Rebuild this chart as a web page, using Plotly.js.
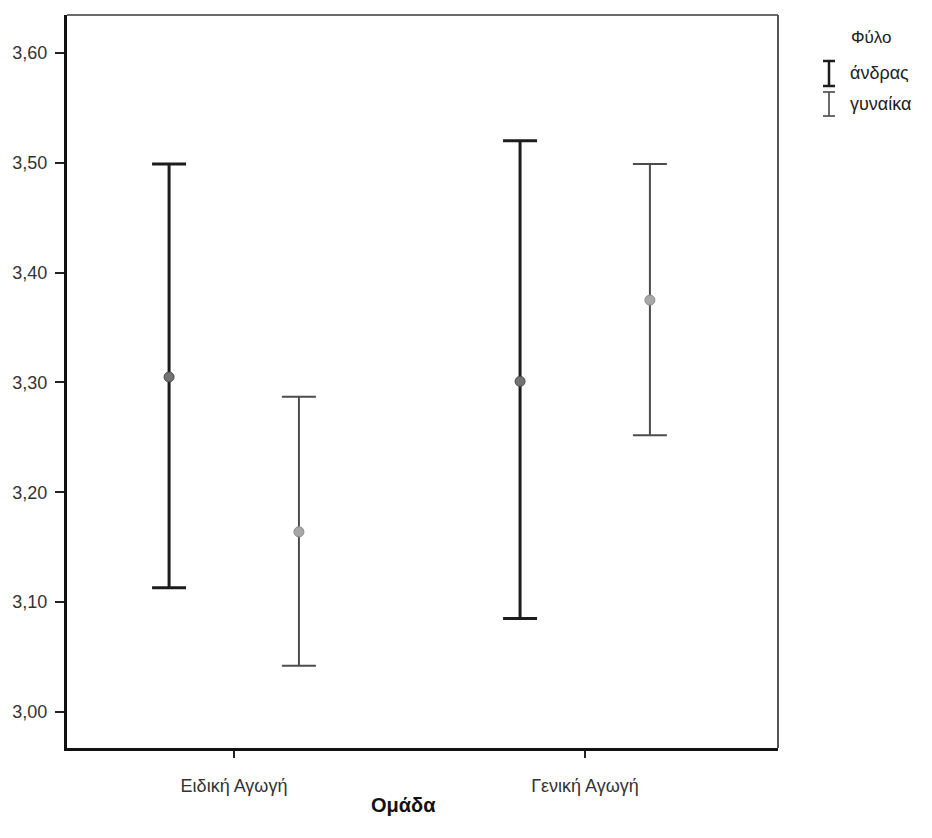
<!DOCTYPE html>
<html>
<head>
<meta charset="utf-8">
<script src="https://cdn.plot.ly/plotly-3.0.1.min.js"></script>
<style>html,body{margin:0;padding:0;background:#fff;}#chart{width:932px;height:838px;}</style>
</head>
<body>
<div id="chart"></div>
<script>
// Data
const categories = ["Ειδική Αγωγή", "Γενική Αγωγή"];
const seriesNames = ["άνδρας", "γυναίκα"];
const menMean  = [3.305, 3.301];
const menUpper = [3.499, 3.520];
const menLower = [3.113, 3.085];
const womenMean  = [3.164, 3.375];
const womenUpper = [3.287, 3.499];
const womenLower = [3.042, 3.252];
const yTickVals = [3.00, 3.10, 3.20, 3.30, 3.40, 3.50, 3.60];
const xTitle = "Ομάδα";
const legendTitle = "Φύλο";

const OFFSET = 0.185;
function xs(off){ return categories.map((c,i)=> i + off); }
function up(u,m){ return u.map((v,i)=> +(v - m[i]).toFixed(4)); }
function dn(l,m){ return m.map((v,i)=> +(v - l[i]).toFixed(4)); }

const FONT = "Liberation Sans, Arial, sans-serif";

const traces = [
  {
    type: "scatter", mode: "markers", name: seriesNames[0],
    x: xs(-OFFSET), y: menMean,
    marker: {size: 10, color: "#737373", line: {width: 1, color: "#4a4a4a"}},
    error_y: {type: "data", symmetric: false, array: up(menUpper, menMean), arrayminus: dn(menLower, menMean),
              color: "#1c1c1c", thickness: 3, width: 17},
    showlegend: false, hoverinfo: "skip"
  },
  {
    type: "scatter", mode: "markers", name: seriesNames[1],
    x: xs(OFFSET), y: womenMean,
    marker: {size: 10, color: "#a8a8a8", line: {width: 1, color: "#8a8a8a"}},
    error_y: {type: "data", symmetric: false, array: up(womenUpper, womenMean), arrayminus: dn(womenLower, womenMean),
              color: "#4d4d4d", thickness: 2, width: 17},
    showlegend: false, hoverinfo: "skip"
  }
];

// legend decoration (I-beam symbols) in paper coordinates
const W = 711, H = 733; // plot area px
function px(x){ return (x - 67) / W; }
function py(y){ return (748 - y) / H; }
function ibeam(cx, y0, y1, color, w){
  return [
    {type:"line", xref:"paper", yref:"paper", x0:px(cx), x1:px(cx), y0:py(y0), y1:py(y1), line:{color:color, width:w}},
    {type:"line", xref:"paper", yref:"paper", x0:px(cx-6), x1:px(cx+6), y0:py(y0), y1:py(y0), line:{color:color, width:w}},
    {type:"line", xref:"paper", yref:"paper", x0:px(cx-6), x1:px(cx+6), y0:py(y1), y1:py(y1), line:{color:color, width:w}}
  ];
}

const shapes = [
  {type:"line", xref:"paper", yref:"paper", x0:0, x1:1, y0:1, y1:1, line:{color:"#6a6a6a", width:2}},
  {type:"line", xref:"paper", yref:"paper", x0:1, x1:1, y0:0, y1:1, line:{color:"#555", width:2}},
  ...ibeam(829, 61, 86, "#1c1c1c", 2.5),
  ...ibeam(829, 92, 116, "#5a5a5a", 1.8)
];

const annotations = [
  {text: xTitle, xref:"paper", yref:"paper", x: px(403), y: py(805), xanchor:"center", yanchor:"middle",
   showarrow:false, font:{family:FONT, size:20, color:"#111", weight:"bold"}},
  {text: legendTitle, xref:"paper", yref:"paper", x: px(849), y: py(37), xanchor:"left", yanchor:"middle",
   showarrow:false, font:{family:FONT, size:17, color:"#222"}},
  {text: seriesNames[0], xref:"paper", yref:"paper", x: px(848), y: py(73), xanchor:"left", yanchor:"middle",
   showarrow:false, font:{family:FONT, size:18, color:"#222"}},
  {text: seriesNames[1], xref:"paper", yref:"paper", x: px(848), y: py(104), xanchor:"left", yanchor:"middle",
   showarrow:false, font:{family:FONT, size:18, color:"#222"}}
];

const layout = {
  width: 932, height: 838,
  margin: {l: 67, r: 154, t: 15, b: 90, pad: 0},
  paper_bgcolor: "#fff", plot_bgcolor: "#fff",
  separators: ",.",
  showlegend: false,
  font: {family: FONT, size: 18, color: "#333"},
  xaxis: {
    range: [-0.4758, 1.5499], tickvals: categories.map((c,i)=>i), ticktext: categories,
    showgrid: false, zeroline: false, showline: true, linecolor: "#111", linewidth: 3,
    ticks: "outside", ticklen: 7, tickwidth: 2, tickcolor: "#222",
    ticklabelstandoff: 12,
    tickfont: {family: FONT, size: 18, color: "#333"}
  },
  yaxis: {
    range: [2.9672, 3.6346], tickvals: yTickVals, tickformat: ".2f",
    showgrid: false, zeroline: false, showline: true, linecolor: "#111", linewidth: 3,
    ticks: "outside", ticklen: 9, tickwidth: 2, tickcolor: "#222",
    ticklabelstandoff: 4,
    tickfont: {family: FONT, size: 18, color: "#333"}
  },
  shapes: shapes,
  annotations: annotations
};

Plotly.newPlot("chart", traces, layout, {displayModeBar: false, staticPlot: true});
</script>
</body>
</html>
